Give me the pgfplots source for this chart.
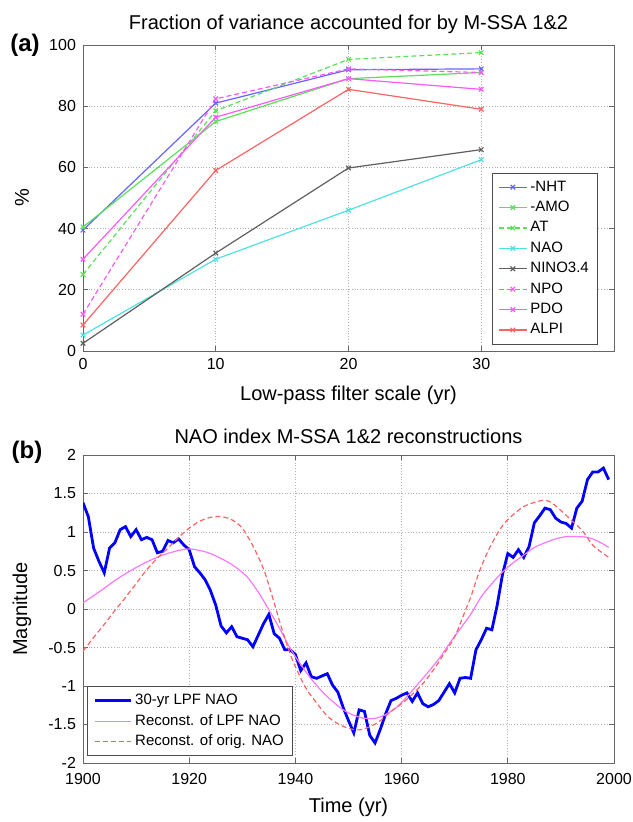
\documentclass[border=0pt]{standalone}
\usepackage{fontspec}
\setmainfont{Liberation Sans}
\usepackage{pgfplots}
\pgfplotsset{compat=1.18}
\definecolor{cNHT}{RGB}{100,100,255}
\definecolor{cAMO}{RGB}{90,225,90}
\definecolor{cNAO}{RGB}{80,225,225}
\definecolor{cNINO}{RGB}{95,95,95}
\definecolor{cMAG}{RGB}{250,90,250}
\definecolor{cRED}{RGB}{250,100,100}
\definecolor{cLMAG}{RGB}{250,120,250}
\begin{document}
\begin{tikzpicture}
\path[use as bounding box] (0pt,0pt) rectangle (316pt,411pt);
\pgfplotsset{
  mystyle/.style={
    scale only axis, width=265.5pt, anchor=south west,
    axis line style={black!60}, tick style={black!60, thin},
    tick align=inside, tick pos=both, major tick length=2.5pt,
    grid=major, major grid style={densely dotted, black!30},
    tick label style={font=\fontsize{8}{10}\selectfont},
    /pgf/number format/assume math mode=true,
    title style={font=\fontsize{10}{12}\selectfont, yshift=-4pt},
    label style={font=\fontsize{10}{12}\selectfont},
    xlabel style={at={(axis description cs:0.5,0)}, anchor=center, yshift=-22pt},
    ylabel style={at={(axis description cs:-0.115,0.5)}, anchor=center},
    legend cell align=left,
  }
}
\begin{axis}[mystyle, at={(41.5pt,235.5pt)}, height=153pt,
  xmin=0, xmax=40, ymin=0, ymax=100,
  xtick={0,10,20,30}, ytick={0,20,40,60,80,100},
  title={Fraction of variance accounted for by M-SSA 1\&2},
  xlabel={Low-pass filter scale (yr)}, ylabel={\%},
  legend style={at={(0.770,0.583)}, anchor=north west, draw=black!70,
    font=\fontsize{7.5}{9}\selectfont, row sep=0pt,
    nodes={inner sep=1.5pt, text height=5.6pt, text depth=1.6pt}},
  legend image code/.code={\draw[mark repeat=2,mark phase=2,#1] plot coordinates {(0pt,0pt) (7pt,0pt) (14pt,0pt)};},
  every axis plot/.append style={line width=0.6pt, mark=x, mark size=1.6pt, mark options={solid}},
]
\addplot[cNHT] coordinates {(0,39.5) (10,81) (20,91.9) (30,92.2)};
\addlegendentry{-NHT}
\addplot[cAMO] coordinates {(0,40.5) (10,75) (20,89) (30,91)};
\addlegendentry{-AMO}
\addplot[cAMO, dash pattern=on 2.5pt off 1.5pt] coordinates {(0,25) (10,78.5) (20,95.3) (30,97.5)};
\addlegendentry{AT}
\addplot[cNAO] coordinates {(0,5.2) (10,30) (20,46) (30,62.5)};
\addlegendentry{NAO}
\addplot[cNINO] coordinates {(0,2.5) (10,32) (20,59.8) (30,65.8)};
\addlegendentry{NINO3.4}
\addplot[cMAG, dash pattern=on 2.5pt off 1.5pt] coordinates {(0,12) (10,82.4) (20,92.2) (30,91)};
\addlegendentry{NPO}
\addplot[cMAG] coordinates {(0,30) (10,76.4) (20,89) (30,85.5)};
\addlegendentry{PDO}
\addplot[cRED] coordinates {(0,8.5) (10,59) (20,85.5) (30,79)};
\addlegendentry{ALPI}
\end{axis}

\begin{axis}[mystyle, at={(41.5pt,29.5pt)}, height=154pt,
  xmin=1900, xmax=2000, ymin=-2, ymax=2,
  xtick={1900,1920,1940,1960,1980,2000},
  xticklabels={1900,1920,1940,1960,1980,2000},
  xticklabel style={yshift=-1.5pt},
  ytick={-2,-1.5,-1,-0.5,0,0.5,1,1.5,2},
  yticklabels={-2,-1.5,-1,-0.5,0,0.5,1,1.5,2},
  title={NAO index M-SSA 1\&2 reconstructions},
  xlabel={Time (yr)}, ylabel={Magnitude},
  legend style={at={(0.0075,0.022)}, anchor=south west, draw=black!70,
    font=\fontsize{7.5}{9}\selectfont, row sep=0pt,
    nodes={inner sep=1.5pt, text height=5.6pt, text depth=1.6pt}},
  legend image code/.code={\draw[#1] (0pt,0pt) -- (18pt,0pt);},
]
\addplot[blue, line width=1.4pt] coordinates {
(1900,1.38) (1901,1.20) (1902,0.79) (1903,0.62) (1904,0.47) (1905,0.79)
(1906,0.86) (1907,1.03) (1908,1.07) (1909,0.94) (1910,1.03) (1911,0.90)
(1912,0.93) (1913,0.90) (1914,0.73) (1915,0.75) (1916,0.89) (1917,0.86)
(1918,0.91) (1919,0.83) (1920,0.77) (1921,0.55) (1922,0.47) (1923,0.38)
(1924,0.24) (1925,0.05) (1926,-0.22) (1927,-0.31) (1928,-0.23) (1929,-0.36)
(1930,-0.38) (1931,-0.40) (1932,-0.49) (1933,-0.34) (1934,-0.19) (1935,-0.07)
(1936,-0.32) (1937,-0.38) (1938,-0.53) (1939,-0.53) (1940,-0.59) (1941,-0.80)
(1942,-0.70) (1943,-0.88) (1944,-0.90) (1945,-0.87) (1946,-0.84) (1947,-0.99)
(1948,-1.08) (1949,-1.28) (1950,-1.45) (1951,-1.61) (1952,-1.31) (1953,-1.33)
(1954,-1.64) (1955,-1.74) (1956,-1.56) (1957,-1.36) (1958,-1.19) (1959,-1.16)
(1960,-1.12) (1961,-1.09) (1962,-1.20) (1963,-1.09) (1964,-1.23) (1965,-1.27)
(1966,-1.24) (1967,-1.19) (1968,-1.08) (1969,-0.97) (1970,-1.09) (1971,-0.90)
(1972,-0.89) (1973,-0.90) (1974,-0.53) (1975,-0.40) (1976,-0.25) (1977,-0.27)
(1978,0.05) (1979,0.45) (1980,0.72) (1981,0.67) (1982,0.77) (1983,0.67)
(1984,0.81) (1985,1.12) (1986,1.21) (1987,1.31) (1988,1.29) (1989,1.18)
(1990,1.13) (1991,1.11) (1992,1.05) (1993,1.31) (1994,1.40) (1995,1.68)
(1996,1.78) (1997,1.78) (1998,1.83) (1999,1.68)};
\addlegendentry{30-yr LPF NAO}
\addplot[cLMAG, line width=0.6pt, smooth] coordinates {
(1900,0.08) (1903,0.22) (1906,0.37) (1909,0.50) (1912,0.61) (1915,0.70)
(1918,0.76) (1920,0.78) (1922,0.76) (1924,0.72) (1927,0.62) (1929,0.53)
(1931,0.41) (1933,0.22) (1935,-0.01) (1937,-0.25) (1939,-0.51) (1941,-0.72)
(1943,-0.91) (1945,-1.07) (1947,-1.20) (1949,-1.31) (1951,-1.38) (1953,-1.42)
(1955,-1.42) (1957,-1.37) (1959,-1.28) (1961,-1.14) (1963,-0.98) (1965,-0.82)
(1967,-0.65) (1969,-0.45) (1971,-0.26) (1973,-0.07) (1975,0.16) (1977,0.33)
(1979,0.48) (1981,0.60) (1983,0.70) (1985,0.80) (1987,0.86) (1989,0.91)
(1991,0.94) (1993,0.94) (1995,0.93) (1997,0.88) (1999,0.80)};
\addlegendentry{Reconst. of LPF NAO}
\addplot[cRED, line width=0.6pt, dash pattern=on 2.5pt off 1.5pt, smooth] coordinates {
(1900,-0.55) (1902,-0.37) (1904,-0.20) (1906,-0.02) (1908,0.15) (1910,0.33)
(1912,0.51) (1914,0.66) (1916,0.79) (1918,0.93) (1920,1.05) (1922,1.14)
(1924,1.19) (1926,1.20) (1928,1.16) (1930,1.05) (1932,0.82) (1934,0.52)
(1935,0.31) (1936,0.08) (1937.5,-0.27) (1939,-0.58) (1940,-0.75) (1942,-1.03)
(1944,-1.22) (1946,-1.39) (1948,-1.49) (1950,-1.55) (1952,-1.57) (1954,-1.53)
(1956,-1.45) (1958,-1.33) (1960,-1.23) (1962,-1.11) (1964,-0.97) (1966,-0.79)
(1968,-0.58) (1970,-0.36) (1972,-0.02) (1973,0.15) (1974,0.36) (1975,0.55)
(1976.4,0.77) (1978.3,1.01) (1980,1.16) (1983,1.33) (1986.4,1.41) (1988,1.39)
(1990,1.28) (1992,1.15) (1994,1.02) (1996,0.83) (1998,0.72) (1999,0.67)};
\addlegendentry{Reconst. of orig. NAO}
\end{axis}
\node[font=\bfseries\fontsize{12}{14}\selectfont] at (12.5pt,388.5pt) {(a)};
\node[font=\bfseries\fontsize{12}{14}\selectfont] at (13.5pt,185pt) {(b)};
\end{tikzpicture}
\end{document}
